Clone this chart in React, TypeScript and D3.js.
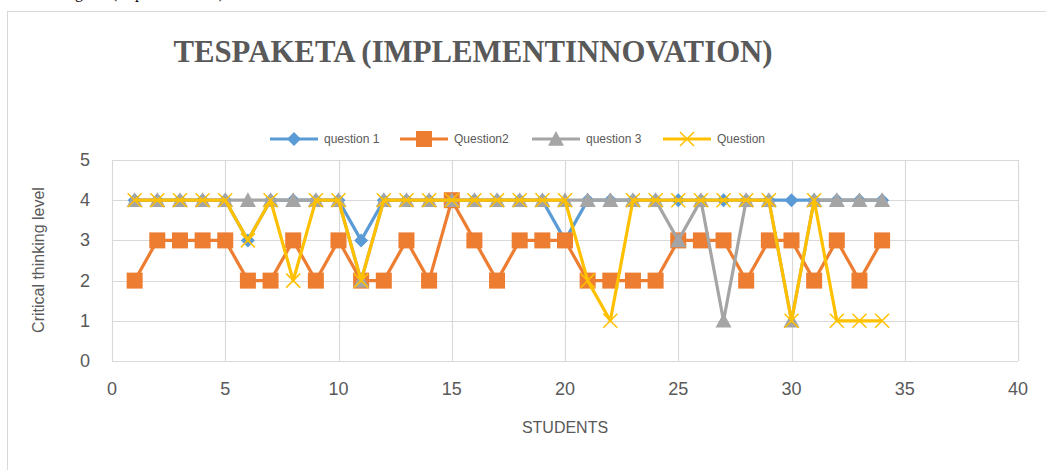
import React from "react";
import * as d3 from "d3";

const students = d3.range(1, 35);
const question1 = [4,4,4,4,4,3,4,4,4,4,3,4,4,4,4,4,4,4,4,3,4,4,4,4,4,4,4,4,4,4,4,4,4,4];
const question2 = [2,3,3,3,3,2,2,3,2,3,2,2,3,2,4,3,2,3,3,3,2,2,2,2,3,3,3,2,3,3,2,3,2,3];
const question3 = [4,4,4,4,4,4,4,4,4,4,2,4,4,4,4,4,4,4,4,4,4,4,4,4,3,4,1,4,4,1,4,4,4,4];
const question4 = [4,4,4,4,4,3,4,2,4,4,2,4,4,4,4,4,4,4,4,4,2,1,4,4,4,4,4,4,4,1,4,1,1,1];
const seriesNames = ["question 1", "Question2", "question 3", "Question"];
const seriesColors = ["#5B9BD5", "#ED7D31", "#A5A5A5", "#FFC000"];
const seriesMarkers = ["diamond", "square", "triangle", "x"];
const xTicks = [0, 5, 10, 15, 20, 25, 30, 35, 40];
const yTicks = [0, 1, 2, 3, 4, 5];

const W = 1046, H = 470;
const plot = { left: 112, right: 1018, top: 160, bottom: 361 };

function Marker({ type, x, y, color }: { type: string; x: number; y: number; color: string }) {
  if (type === "diamond") {
    const s = 7;
    return <path d={`M${x},${y - s}L${x + s},${y}L${x},${y + s}L${x - s},${y}Z`} fill={color} />;
  }
  if (type === "square") {
    const s = 8;
    return <rect x={x - s} y={y - s} width={2 * s} height={2 * s} fill={color} />;
  }
  if (type === "triangle") {
    const s = 8;
    return <path d={`M${x},${y - s}L${x + s},${y + s * 0.85}L${x - s},${y + s * 0.85}Z`} fill={color} />;
  }
  const s = 7;
  return (
    <path d={`M${x - s},${y - s}L${x + s},${y + s}M${x - s},${y + s}L${x + s},${y - s}`} stroke={color} strokeWidth={1.5} fill="none" />
  );
}

export default function App() {
  const x = d3.scaleLinear().domain([0, 40]).range([plot.left, plot.right]);
  const y = d3.scaleLinear().domain([0, 5]).range([plot.bottom, plot.top]);
  const data = [question1, question2, question3, question4];
  const line = d3
    .line<number>()
    .x((_, i) => x(students[i]))
    .y((d) => y(d));
  const legendX = [270, 400, 532, 663];
  const legendY = 139;
  return (
    <svg width={W} height={H} style={{ position: "absolute", left: 0, top: 0, background: "#fff" }}>
      <text x={52} y={-2} fontFamily="'Liberation Serif', 'Times New Roman', serif" fontSize={16} fill="#000">
        Diagram (Implementation)
      </text>
      <rect x={7.5} y={11.5} width={1100} height={500} fill="#fff" stroke="#d9d9d9" strokeWidth={1} />
      <text
        x={473}
        y={62}
        textAnchor="middle"
        fontFamily="'Liberation Serif', 'Times New Roman', serif"
        fontWeight="bold"
        fontSize={30.8}
        fill="#595959"
      >
        TESPAKETA (IMPLEMENTINNOVATION)
      </text>
      {seriesNames.map((name, i) => (
        <g key={name}>
          <line x1={legendX[i]} x2={legendX[i] + 48} y1={legendY} y2={legendY} stroke={seriesColors[i]} strokeWidth={3} />
          <Marker type={seriesMarkers[i]} x={legendX[i] + 24} y={legendY} color={seriesColors[i]} />
          <text x={legendX[i] + 54} y={legendY + 4} fontFamily="'Liberation Sans', Arial, sans-serif" fontSize={12} fill="#595959">
            {name}
          </text>
        </g>
      ))}
      {yTicks.map((t) => (
        <line key={"gy" + t} x1={plot.left} x2={plot.right} y1={Math.round(y(t)) + 0.5} y2={Math.round(y(t)) + 0.5} stroke="#d9d9d9" strokeWidth={1.2} />
      ))}
      {xTicks.map((t) => (
        <line key={"gx" + t} x1={Math.round(x(t)) + 0.5} x2={Math.round(x(t)) + 0.5} y1={plot.top} y2={plot.bottom} stroke="#d9d9d9" strokeWidth={1.2} />
      ))}
      {yTicks.map((t) => (
        <text key={"ty" + t} x={90} y={y(t) + 6} textAnchor="end" fontFamily="'Liberation Sans', Arial, sans-serif" fontSize={18} fill="#595959">
          {t}
        </text>
      ))}
      {xTicks.map((t) => (
        <text key={"tx" + t} x={x(t)} y={395} textAnchor="middle" fontFamily="'Liberation Sans', Arial, sans-serif" fontSize={18} fill="#595959">
          {t}
        </text>
      ))}
      <text x={565} y={433} textAnchor="middle" fontFamily="'Liberation Sans', Arial, sans-serif" fontSize={16} fill="#595959">
        STUDENTS
      </text>
      <text
        transform={`translate(44,260) rotate(-90)`}
        textAnchor="middle"
        fontFamily="'Liberation Sans', Arial, sans-serif"
        fontSize={16}
        fill="#595959"
      >
        Critical thinking level
      </text>
      {data.map((vals, si) => (
        <g key={"s" + si}>
          <path d={line(vals) || ""} fill="none" stroke={seriesColors[si]} strokeWidth={3.2} strokeLinejoin="round" />
          {vals.map((v, i) => (
            <Marker key={i} type={seriesMarkers[si]} x={x(students[i])} y={y(v)} color={seriesColors[si]} />
          ))}
        </g>
      ))}
    </svg>
  );
}
